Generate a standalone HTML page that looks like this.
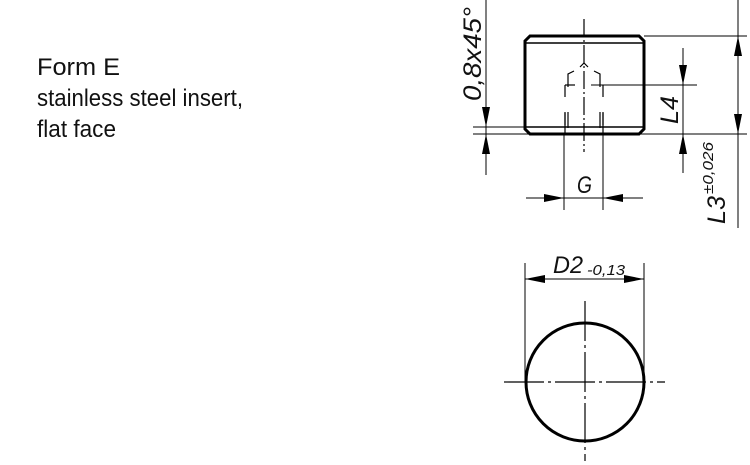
<!DOCTYPE html>
<html><head><style>html,body{margin:0;padding:0;background:#fff;}svg{display:block}</style></head>
<body>
<svg width="750" height="465" viewBox="0 0 750 465" xmlns="http://www.w3.org/2000/svg" font-family="Liberation Sans, sans-serif">
<g fill="#111">
<text x="37" y="75" font-size="24" textLength="83" lengthAdjust="spacingAndGlyphs">Form E</text>
<text x="37" y="106" font-size="24" textLength="206" lengthAdjust="spacingAndGlyphs">stainless steel insert,</text>
<text x="37" y="137" font-size="24" textLength="79" lengthAdjust="spacingAndGlyphs">flat face</text>
</g>
<g stroke="#000" fill="none">
<path d="M530 36 H639 L644 41 V129 L639 134 H530 L525 129 V41 Z" stroke-width="3"/>
<line x1="525" y1="43" x2="644" y2="43" stroke-width="1.5"/>
<line x1="525" y1="127" x2="644" y2="127" stroke-width="1.5"/>
<line x1="584" y1="19" x2="584" y2="152" stroke-width="1.2" stroke-dasharray="18,3,2,3"/>
<path d="M580 67 L584 63 L588 67" stroke-width="1.2"/>
<path d="M568 87 V74 L574 71" stroke-width="1.2"/>
<path d="M600 87 V74 L594 71" stroke-width="1.2"/>
<line x1="565" y1="85" x2="575" y2="85" stroke-width="1.2"/>
<line x1="565" y1="85" x2="565" y2="134" stroke-width="1.2" stroke-dasharray="12,16"/>
<line x1="603" y1="85" x2="603" y2="134" stroke-width="1.2" stroke-dasharray="12,16"/>
<line x1="565" y1="112" x2="565" y2="134" stroke-width="1.2"/>
<line x1="603" y1="112" x2="603" y2="134" stroke-width="1.2"/>
<line x1="568" y1="112" x2="568" y2="128" stroke-width="1.2"/>
<line x1="600" y1="112" x2="600" y2="128" stroke-width="1.2"/>
<line x1="644" y1="36" x2="747" y2="36" stroke-width="1"/>
<line x1="473" y1="134" x2="747" y2="134" stroke-width="1"/>
<line x1="473" y1="127" x2="525" y2="127" stroke-width="1"/>
<line x1="591" y1="85" x2="697" y2="85" stroke-width="1"/>
<line x1="738" y1="0" x2="738" y2="228" stroke-width="1"/>
<line x1="683" y1="48" x2="683" y2="173" stroke-width="1"/>
<line x1="486" y1="0" x2="486" y2="175" stroke-width="1"/>
<line x1="564" y1="134" x2="564" y2="210" stroke-width="1"/>
<line x1="603" y1="134" x2="603" y2="210" stroke-width="1"/>
<line x1="526" y1="198" x2="643" y2="198" stroke-width="1"/>
<circle cx="585" cy="382" r="59" stroke-width="3"/>
<line x1="504" y1="382" x2="665" y2="382" stroke-width="1.2" stroke-dasharray="40,4,3,4"/>
<line x1="585" y1="301" x2="585" y2="461" stroke-width="1.2" stroke-dasharray="40,4,3,4"/>
<line x1="525" y1="263" x2="525" y2="382" stroke-width="1"/>
<line x1="644" y1="263" x2="644" y2="382" stroke-width="1"/>
<line x1="525" y1="279" x2="644" y2="279" stroke-width="1"/>
</g>
<g fill="#000">
<path d="M738 36 L734 56 L742 56 Z"/>
<path d="M738 134 L734 114 L742 114 Z"/>
<path d="M683 85 L679 65 L687 65 Z"/>
<path d="M683 134 L679 154 L687 154 Z"/>
<path d="M486 127 L482 107 L490 107 Z"/>
<path d="M486 134 L482 154 L490 154 Z"/>
<path d="M564 198 L544 194 L544 202 Z"/>
<path d="M603 198 L623 194 L623 202 Z"/>
<path d="M525 279 L545 275 L545 283 Z"/>
<path d="M644 279 L624 275 L624 283 Z"/>
</g>
<g fill="#111" font-style="italic">
<text transform="translate(481,101) rotate(-90)" font-size="25" textLength="94" lengthAdjust="spacingAndGlyphs">0,8x45°</text>
<text transform="translate(678,124) rotate(-90)" font-size="25" textLength="28" lengthAdjust="spacingAndGlyphs">L4</text>
<text transform="translate(725,224) rotate(-90)" font-size="25" textLength="28" lengthAdjust="spacingAndGlyphs">L3</text>
<text transform="translate(713,194) rotate(-90)" font-size="15" textLength="52" lengthAdjust="spacingAndGlyphs">±0,026</text>
<text x="577" y="193" font-size="24" textLength="15" lengthAdjust="spacingAndGlyphs">G</text>
<text x="553" y="273" font-size="24" textLength="30" lengthAdjust="spacingAndGlyphs">D2</text>
<text x="587" y="275" font-size="15" textLength="38" lengthAdjust="spacingAndGlyphs">-0,13</text>
</g>
</svg>
</body></html>
